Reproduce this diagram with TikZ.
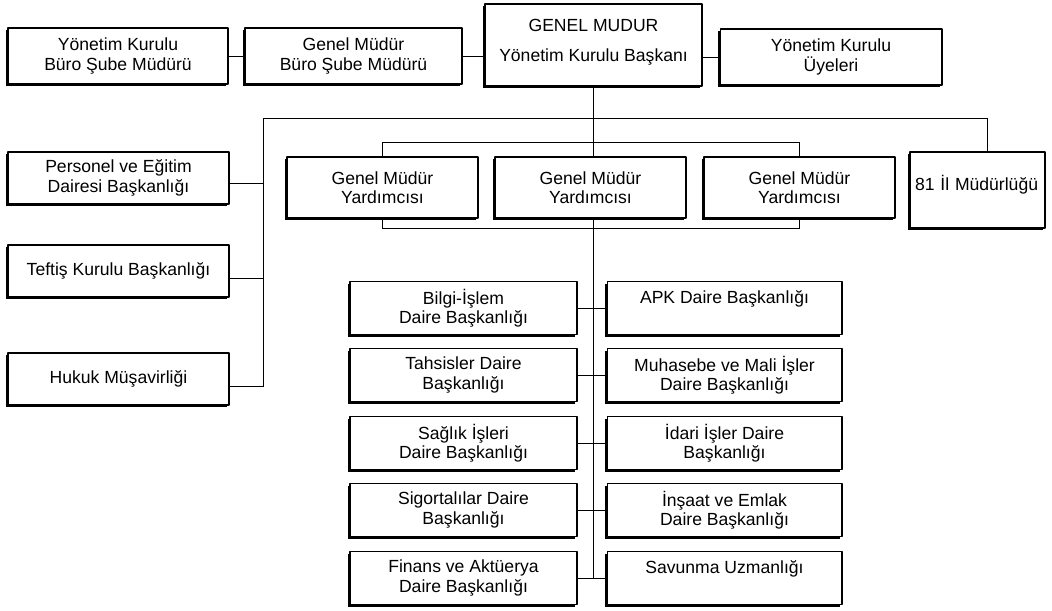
\documentclass[tikz,border=0pt]{standalone}
\usepackage{fontspec}
\setmainfont{Liberation Sans}
\usetikzlibrary{shadows,backgrounds}
\begin{document}
\begin{tikzpicture}[x=0.02cm,y=-0.02cm,line join=round,
	kutu/.style={draw,fill=white,line width=0.6pt,align=center,inner sep=1pt,font=\fontsize{10}{11}\selectfont},
	golge/.style={drop shadow={shadow xshift=-#1,shadow yshift=-#1,fill=black,opacity=1}},
	ust/.style={kutu,golge=0.9pt},
	yard/.style={kutu,golge=0.9pt,minimum width=3.82cm,minimum height=1.22cm},
	daire/.style={kutu,golge=1.4pt,minimum height=1.06cm},
	hat/.style={line width=0.8pt}]
	\useasboundingbox (0,0) rectangle (1052,610);
	\node[ust,minimum width=4.4cm,minimum height=1.12cm] (ykbsm) at (118,56) {Yönetim Kurulu\\Büro Şube Müdürü};
	\node[ust,minimum width=4.34cm,minimum height=1.12cm] (gmbsm) at (353.5,56) {Genel Müdür\\Büro Şube Müdürü};
	\node[ust,minimum width=4.34cm,minimum height=1.64cm] (gm) at (593.5,45) {GENEL MUDUR\\[6pt]Yönetim Kurulu Başkanı\\[-5.5pt]\mbox{}};
	\node[ust,minimum width=4.44cm,minimum height=1.12cm] (uye) at (831,57) {Yönetim Kurulu\\Üyeleri};
	\node[ust,minimum width=4.42cm,minimum height=1.04cm] (pers) at (118.5,178) {Personel ve Eğitim\\Dairesi Başkanlığı};
	\node[ust,minimum width=4.42cm,minimum height=1.04cm] (teftis) at (118.5,271) {Teftiş Kurulu Başkanlığı};
	\node[ust,minimum width=4.42cm,minimum height=1.04cm] (hukuk) at (118.5,379) {Hukuk Müşavirliği};
	\node[yard] (gmy1) at (382.5,187.5) {Genel Müdür\\Yardımcısı};
	\node[yard] (gmy2) at (590.5,187.5) {Genel Müdür\\Yardımcısı};
	\node[yard] (gmy3) at (799.5,187.5) {Genel Müdür\\Yardımcısı};
	\node[ust,minimum width=2.7cm,minimum height=1.52cm,text width=2.5cm,align=left] (ilm) at (977.5,190) {81 İl Müdürlüğü\\[-3pt]\mbox{}};
	\node[daire,minimum width=4.54cm] (bilgi) at (463.5,308) {Bilgi-İşlem\\Daire Başkanlığı};
	\node[daire,minimum width=4.54cm] (tahsis) at (463.5,375) {Tahsisler Daire\\Başkanlığı};
	\node[daire,minimum width=4.54cm] (saglik) at (463.5,443) {Sağlık İşleri\\Daire Başkanlığı};
	\node[daire,minimum width=4.54cm] (sigorta) at (463.5,510) {Sigortalılar Daire\\Başkanlığı};
	\node[daire,minimum width=4.54cm] (finans) at (463.5,578) {Finans ve Aktüerya\\Daire Başkanlığı};
	\node[daire,minimum width=4.7cm] (apk) at (724.5,308) {APK Daire Başkanlığı\\[1pt]\mbox{}};
	\node[daire,minimum width=4.7cm] (muhasebe) at (724.5,375) {Muhasebe ve Mali İşler\\Daire Başkanlığı};
	\node[daire,minimum width=4.7cm] (idari) at (724.5,443) {İdari İşler Daire\\Başkanlığı};
	\node[daire,minimum width=4.7cm] (insaat) at (724.5,510) {İnşaat ve Emlak\\Daire Başkanlığı};
	\node[daire,minimum width=4.7cm] (savunma) at (724.5,578) {Savunma Uzmanlığı\\[1pt]\mbox{}};
	\coordinate (solhat) at (263,118);
	\coordinate (saghat) at (987,118);
	\coordinate (yu) at (0,142);
	\coordinate (ya) at (0,228);
	\begin{scope}[on background layer,hat]
		\draw (ykbsm) -- (gmbsm) (gmbsm.east) -- (gmbsm.east -| gm.west) (gm.east |- uye.west) -- (uye.west);
		\draw (gm.south) -- (gm.south |- finans.east);
		\draw (solhat) -- (saghat) -- (saghat |- ilm.north);
		\draw ([yshift=-3pt]pers.east) -| (solhat) ([yshift=-4pt]teftis.east) -| (solhat) ([yshift=-4pt]hukuk.east) -| (solhat);
		\draw (gmy1 |- yu) rectangle (gmy3 |- ya);
		\draw (bilgi) -- (apk) (tahsis) -- (muhasebe) (saglik) -- (idari) (sigorta) -- (insaat) (finans) -- (savunma);
	\end{scope}
\end{tikzpicture}
\end{document}
